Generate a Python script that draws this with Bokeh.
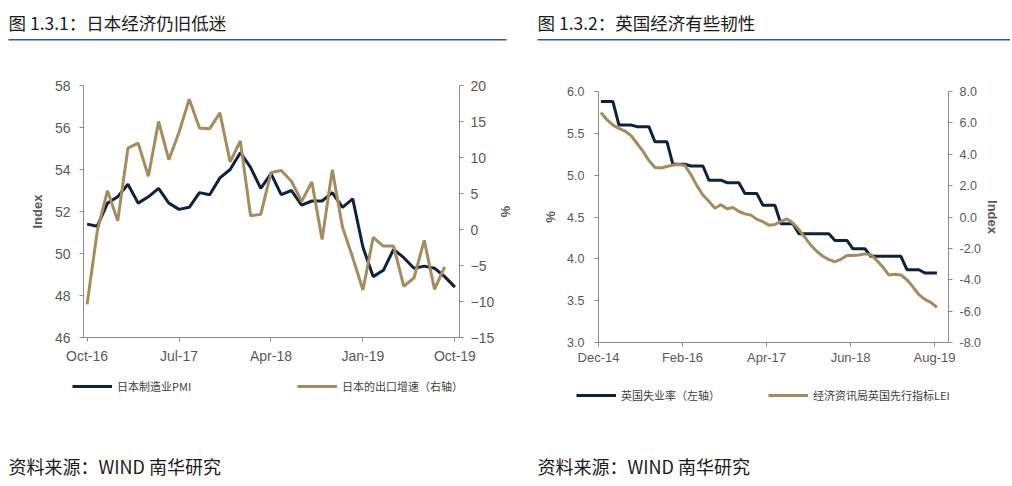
from bokeh.plotting import figure
from bokeh.models import (Range1d, LinearAxis, FixedTicker, Label, Legend, LegendItem,
                          BoxAnnotation, NumeralTickFormatter)
from bokeh.layouts import row, column
from bokeh.embed import file_html
from bokeh.resources import INLINE

# ---------------- data: Japan (left chart) ----------------
jp_pmi = [51.4, 51.3, 52.4, 52.7, 53.3, 52.4, 52.7, 53.1, 52.4, 52.1, 52.2, 52.9,
          52.8, 53.6, 54.0, 54.8, 54.1, 53.1, 53.8, 52.8, 53.0, 52.3, 52.5, 52.5,
          52.9, 52.2, 52.6, 50.3, 48.9, 49.2, 50.2, 49.8, 49.3, 49.4, 49.3, 48.9, 48.4]
jp_export = [-10.4, -0.2, 5.4, 1.2, 11.3, 12.0, 7.4, 15.0, 9.7, 13.5, 18.1, 14.1,
             14.0, 16.2, 9.4, 12.3, 1.9, 2.1, 7.9, 8.2, 6.7, 3.9, 6.6, -1.4,
             8.3, 0.3, -3.9, -8.4, -1.1, -2.3, -2.3, -7.9, -6.7, -1.5, -8.3, -5.2]
jp_tick_idx = [0, 9, 18, 27, 36]
jp_tick_labels = ["Oct-16", "Jul-17", "Apr-18", "Jan-19", "Oct-19"]
jp_left_ticks = [46, 48, 50, 52, 54, 56, 58]
jp_right_ticks = [-15, -10, -5, 0, 5, 10, 15, 20]

# ---------------- data: UK (right chart) ----------------
uk_unemp = [5.88, 5.88, 5.88, 5.60, 5.60, 5.60, 5.58, 5.58, 5.58, 5.40, 5.40, 5.40,
            5.13, 5.13, 5.13, 5.11, 5.11, 5.11, 4.94, 4.94, 4.94, 4.91, 4.91, 4.91,
            4.78, 4.78, 4.78, 4.64, 4.64, 4.64, 4.42, 4.42, 4.42, 4.30, 4.30, 4.30,
            4.30, 4.30, 4.30, 4.22, 4.22, 4.22, 4.12, 4.12, 4.12, 4.03, 4.03, 4.03,
            4.03, 4.03, 4.03, 3.87, 3.87, 3.87, 3.83, 3.83, 3.83]
uk_lei = [6.66, 6.2, 5.86, 5.65, 5.48, 5.2, 4.7, 4.2, 3.6, 3.15, 3.12, 3.22,
          3.31, 3.35, 3.28, 2.7, 2.0, 1.4, 1.0, 0.56, 0.78, 0.52, 0.6, 0.35,
          0.2, 0.12, -0.15, -0.3, -0.52, -0.48, -0.28, -0.12, -0.38, -0.8, -1.3, -1.8,
          -2.2, -2.5, -2.72, -2.85, -2.7, -2.45, -2.45, -2.42, -2.35, -2.4, -2.78, -3.2,
          -3.7, -3.65, -3.7, -4.0, -4.45, -4.95, -5.25, -5.45, -5.75]
uk_tick_idx = [0, 14, 28, 42, 56]
uk_tick_labels = ["Dec-14", "Feb-16", "Apr-17", "Jun-18", "Aug-19"]
uk_left_ticks = [3.0, 3.5, 4.0, 4.5, 5.0, 5.5, 6.0]
uk_right_ticks = [-8, -6, -4, -2, 0, 2, 4, 6, 8]

NAVY = "#0C2340"
GOLD = "#A68C5C"
AXIS = "#8C8C8C"
TXT = "#595959"
BLUE = "#1F5C99"
CJK = "Noto Sans CJK SC"
LAT = "Liberation Sans"

LW, RW = 516, 494          # column widths
HH, CH, LH, FH = 48, 322, 40, 68   # header, chart, legend, footer heights


def no_align(f):
    if "frame_align" in f.properties():
        f.frame_align = False
    return f


def style_axis(ax, size):
    ax.axis_line_color = AXIS
    ax.major_tick_line_color = AXIS
    ax.minor_tick_line_color = None
    ax.major_tick_in = 0
    ax.major_tick_out = 4
    ax.major_label_text_color = TXT
    ax.major_label_text_font = LAT
    ax.major_label_text_font_size = size
    ax.axis_label_text_color = TXT
    ax.axis_label_text_font = LAT
    ax.axis_label_text_font_style = "bold"
    ax.axis_label_text_font_size = "13px"


def blank(width, height):
    f = figure(width=width, height=height, output_backend="svg", toolbar_location=None,
               x_axis_type=None, y_axis_type=None, min_border=0,
               x_range=Range1d(0, 1), y_range=Range1d(0, 1))
    f.outline_line_color = None
    f.grid.visible = False
    return no_align(f)


def header(width, x0, x1, text):
    h = blank(width, HH)
    h.add_layout(Label(x=x0, y=26, x_units="screen", y_units="screen", text=text,
                       text_font=CJK, text_font_size="17.5px", text_color="#1A1A1A",
                       text_baseline="middle", text_align="left"))
    h.add_layout(BoxAnnotation(left=x0, right=x1, bottom=8, top=9.5,
                               left_units="screen", right_units="screen",
                               bottom_units="screen", top_units="screen",
                               fill_color=BLUE, fill_alpha=1, line_alpha=0))
    return h


def footer(width, x0, text):
    f = blank(width, FH)
    f.add_layout(Label(x=x0, y=13, x_units="screen", y_units="screen", text=text,
                       text_font=CJK, text_font_size="18px", text_color="#1A1A1A",
                       text_baseline="middle", text_align="left"))
    return f


def legend_fig(width, x, y, names, colors, series, label_width):
    f = blank(width, LH)
    items = []
    for n, c, s in zip(names, colors, series):
        r = f.line(list(range(len(s))), s, line_color=c, line_width=3, visible=False)
        items.append(LegendItem(label=n, renderers=[r]))
    f.add_layout(Legend(items=items, location=(x, y), orientation="horizontal",
                        padding=0, margin=0, spacing=10, glyph_width=40, glyph_height=14,
                        label_width=label_width, label_height=14, label_standoff=5,
                        border_line_alpha=0, background_fill_alpha=0,
                        inactive_fill_alpha=0,
                        label_text_font=CJK, label_text_font_size="11px",
                        label_text_color="#404040"))
    return f


# ---------------- left chart ----------------
p1 = figure(width=LW, height=CH, output_backend="svg", toolbar_location=None,
            x_range=Range1d(-0.35, 36.45), y_range=Range1d(46, 58),
            min_border_left=83, min_border_right=LW - 461, min_border_top=37, min_border_bottom=33)
no_align(p1)
p1.extra_y_ranges = {"right": Range1d(-15, 20)}
p1.outline_line_color = None
p1.grid.visible = False

jx = list(range(len(jp_pmi)))
p1.line(jx, jp_pmi, line_color=NAVY, line_width=3)
p1.line(jx[:len(jp_export)], jp_export, line_color=GOLD, line_width=3, y_range_name="right")

p1.xaxis.ticker = FixedTicker(ticks=jp_tick_idx)
p1.xaxis.major_label_overrides = {i: s for i, s in zip(jp_tick_idx, jp_tick_labels)}
p1.yaxis.ticker = FixedTicker(ticks=jp_left_ticks)
p1.yaxis.axis_label = "Index"
for ax in p1.xaxis + p1.yaxis:
    style_axis(ax, "14px")
p1.xaxis.major_label_standoff = 6
p1.yaxis.major_label_standoff = 9
p1.yaxis.axis_label_standoff = 7

ax_r = LinearAxis(y_range_name="right", ticker=FixedTicker(ticks=jp_right_ticks), axis_label="%")
style_axis(ax_r, "14px")
ax_r.major_label_standoff = 7
ax_r.axis_label_standoff = 1
p1.add_layout(ax_r, "right")

# ---------------- right chart ----------------
p2 = figure(width=RW, height=CH, output_backend="svg", toolbar_location=None,
            x_range=Range1d(0, 58.33), y_range=Range1d(3, 6),
            min_border_left=598 - LW, min_border_right=LW + RW - 948,
            min_border_top=43, min_border_bottom=28)
no_align(p2)
p2.extra_y_ranges = {"right": Range1d(-8, 8)}
p2.outline_line_color = None
p2.grid.visible = False

ux = [k + 0.4 for k in range(len(uk_unemp))]
p2.line(ux, uk_unemp, line_color=NAVY, line_width=3)
p2.line(ux[:len(uk_lei)], uk_lei, line_color=GOLD, line_width=3, y_range_name="right")

p2.xaxis.ticker = FixedTicker(ticks=uk_tick_idx)
p2.xaxis.major_label_overrides = {i: s for i, s in zip(uk_tick_idx, uk_tick_labels)}
p2.yaxis.ticker = FixedTicker(ticks=uk_left_ticks)
p2.yaxis.formatter = NumeralTickFormatter(format="0.0")
p2.yaxis.axis_label = "%"
for ax in p2.xaxis + p2.yaxis:
    style_axis(ax, "12.5px")
p2.xaxis.major_label_text_font_size = "13px"
p2.xaxis.major_label_standoff = 3
p2.yaxis.major_label_standoff = 10
p2.yaxis.axis_label_standoff = 6

ax_r2 = LinearAxis(y_range_name="right", ticker=FixedTicker(ticks=uk_right_ticks), axis_label="Index",
                   formatter=NumeralTickFormatter(format="0.0"))
style_axis(ax_r2, "12.5px")
ax_r2.major_label_standoff = 7
ax_r2.axis_label_standoff = 1
p2.add_layout(ax_r2, "right")

# ---------------- assemble ----------------
left_col = column(
    header(LW, 8, 506, "图 1.3.1：日本经济仍旧低迷"),
    p1,
    legend_fig(LW, 72, 16, ["日本制造业PMI", "日本的出口增速（右轴）"], [NAVY, GOLD],
               [jp_pmi, jp_export], 170),
    footer(LW, 8, "资料来源：WIND  南华研究"),
)
right_col = column(
    header(RW, 537 - LW, RW, "图 1.3.2：英国经济有些韧性"),
    p2,
    legend_fig(RW, 576 - LW, 7, ["英国失业率（左轴）", "经济资讯局英国先行指标LEI"], [NAVY, GOLD],
               [uk_unemp, uk_lei], 137),
    footer(RW, 537 - LW, "资料来源：WIND  南华研究"),
)
layout = row(left_col, right_col)
open("out.html", "w").write(file_html(layout, INLINE))
